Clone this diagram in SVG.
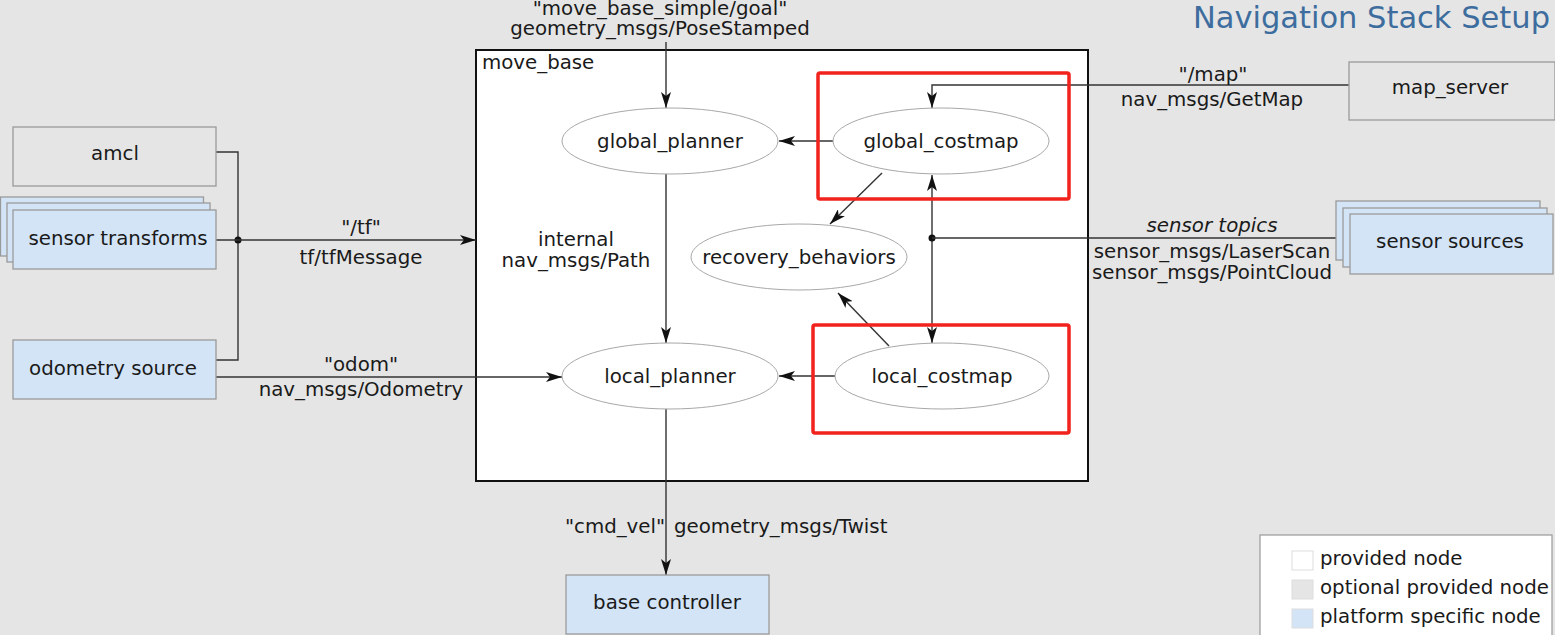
<svg xmlns="http://www.w3.org/2000/svg" width="1555" height="635" viewBox="0 0 1555 635">
<style>
text{font-family:"DejaVu Sans","Liberation Sans",sans-serif;font-size:19.8px;fill:#1a1a1a}
.c{text-anchor:middle}
.box{stroke:#9a9a9a;stroke-width:1.3}
.opt{fill:#e5e5e5}
.plat{fill:#d3e4f7}
.ell{fill:#fff;stroke:#a8a8a8;stroke-width:1}
.ln{fill:none;stroke:#333;stroke-width:1.4}
.red{fill:none;stroke:#f2221c;stroke-width:3.5}
</style>
<defs>
<marker id="a" viewBox="0 0 16 10" refX="16" refY="5" markerWidth="16" markerHeight="10" markerUnits="userSpaceOnUse" orient="auto-start-reverse">
<path d="M0,0 L16,5 L0,10 L4,5 Z" fill="#111"/>
</marker>
</defs>
<rect width="1555" height="635" fill="#e5e5e5"/>
<text x="1550" y="28" style="font-size:30.5px;fill:#3d6d9e;text-anchor:end">Navigation Stack Setup</text>

<g id="move_base">
<rect x="476" y="50" width="612" height="431" fill="#fff" stroke="#111" stroke-width="2"/>
<text x="482" y="69">move_base</text>
</g>

<g id="connectors">
<path class="ln" d="M666,42 V108" marker-end="url(#a)"/>
<path class="ln" d="M216,152 H238 V360 H216"/>
<circle cx="238" cy="240" r="3.5" fill="#111"/>
<path class="ln" d="M216,240 H476" marker-end="url(#a)"/>
<path class="ln" d="M216,377 H562" marker-end="url(#a)"/>
<path class="ln" d="M833,141 H779" marker-end="url(#a)"/>
<path class="ln" d="M835,376 H779" marker-end="url(#a)"/>
<path class="ln" d="M666,174 V343" marker-end="url(#a)"/>
<path class="ln" d="M666,409 V575" marker-end="url(#a)"/>
<path class="ln" d="M1349,85 H932 V108" marker-end="url(#a)"/>
<path class="ln" d="M932,175 V343" marker-start="url(#a)" marker-end="url(#a)"/>
<circle cx="932" cy="238" r="3.5" fill="#111"/>
<path class="ln" d="M932,238 H1336"/>
<path class="ln" d="M882,173 L830,224" marker-end="url(#a)"/>
<path class="ln" d="M889,346 L838,293" marker-end="url(#a)"/>
<text x="660" y="15" class="c">"move_base_simple/goal"</text>
<text x="660" y="35" class="c">geometry_msgs/PoseStamped</text>
<text x="361" y="234" class="c">"/tf"</text>
<text x="361" y="264" class="c">tf/tfMessage</text>
<text x="361" y="371" class="c">"odom"</text>
<text x="361" y="396" class="c">nav_msgs/Odometry</text>
<text x="576" y="246" class="c">internal</text>
<text x="576" y="267" class="c">nav_msgs/Path</text>
<text x="615" y="533" class="c">"cmd_vel"</text>
<text x="674" y="533">geometry_msgs/Twist</text>
<text x="1213" y="81" class="c">"/map"</text>
<text x="1212" y="106" class="c">nav_msgs/GetMap</text>
<text x="1212" y="232" class="c" font-style="italic">sensor topics</text>
<text x="1212" y="258" class="c">sensor_msgs/LaserScan</text>
<text x="1212" y="279" class="c">sensor_msgs/PointCloud</text>
</g>

<g id="amcl">
<rect class="box opt" x="13" y="127" width="203" height="59"/>
<text x="115" y="160" class="c">amcl</text>
</g>
<g id="sensor_transforms">
<rect class="box plat" x="0.5" y="197" width="203" height="59"/>
<rect class="box plat" x="7" y="203" width="203" height="59"/>
<rect class="box plat" x="13" y="210" width="203" height="59"/>
<text x="118" y="245" class="c">sensor transforms</text>
</g>
<g id="odometry_source">
<rect class="box plat" x="13" y="340" width="203" height="59"/>
<text x="113" y="375" class="c">odometry source</text>
</g>
<g id="global_planner">
<ellipse class="ell" cx="670" cy="141" rx="108" ry="33"/>
<text x="670" y="148" class="c">global_planner</text>
</g>
<g id="global_costmap">
<ellipse class="ell" cx="941" cy="141" rx="108" ry="33"/>
<text x="941" y="148" class="c">global_costmap</text>
<rect class="red" x="818" y="73" width="251" height="126" rx="2"/>
</g>
<g id="recovery_behaviors">
<ellipse class="ell" cx="799" cy="257" rx="108" ry="33"/>
<text x="799" y="264" class="c">recovery_behaviors</text>
</g>
<g id="local_planner">
<ellipse class="ell" cx="670" cy="376" rx="108" ry="33"/>
<text x="670" y="383" class="c">local_planner</text>
</g>
<g id="local_costmap">
<ellipse class="ell" cx="942" cy="376" rx="107" ry="33"/>
<text x="942" y="383" class="c">local_costmap</text>
<rect class="red" x="813" y="325" width="256" height="108" rx="2"/>
</g>
<g id="map_server">
<rect class="box opt" x="1349" y="62" width="206" height="58"/>
<text x="1450" y="94" class="c">map_server</text>
</g>
<g id="sensor_sources">
<rect class="box plat" x="1336" y="201" width="204" height="59"/>
<rect class="box plat" x="1343" y="208" width="204" height="59"/>
<rect class="box plat" x="1350" y="214" width="203" height="60"/>
<text x="1450" y="248" class="c">sensor sources</text>
</g>
<g id="base_controller">
<rect class="box plat" x="566" y="575" width="203" height="59"/>
<text x="667" y="609" class="c">base controller</text>
</g>
<g id="legend">
<rect x="1260" y="535" width="292" height="104" fill="#fff" stroke="#999" stroke-width="1.2"/>
<rect x="1292" y="551" width="21" height="19" fill="#fff" stroke="#ddd"/>
<rect x="1292" y="580" width="21" height="19" fill="#e5e5e5" stroke="#ddd"/>
<rect x="1292" y="609" width="21" height="19" fill="#d3e4f7" stroke="#ddd"/>
<text x="1320" y="565">provided node</text>
<text x="1320" y="594">optional provided node</text>
<text x="1320" y="623">platform specific node</text>
</g>
</svg>
